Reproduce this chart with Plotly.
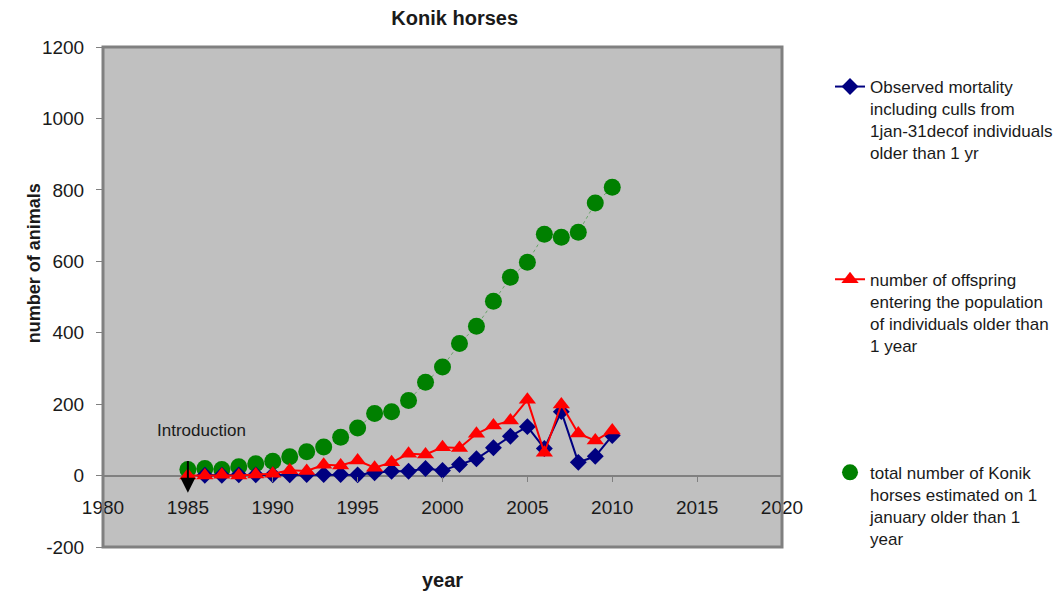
import plotly.graph_objects as go

# ---- data ----
years = list(range(1985, 2011))
total_horses = [17, 20, 17, 25, 33, 40, 53, 67, 80, 107, 133, 174, 179, 210,
                261, 304, 370, 418, 488, 555, 597, 676, 667, 681, 763, 807]
offspring = [0, 0, 2, 0, 3, 5, 15, 13, 30, 28, 42, 22, 37, 61,
             59, 79, 77, 117, 140, 154, 212, 64, 199, 118, 98, 126]
mortality = [None, 1, 1, 2, 2, 2, 2, 3, 3, 3, 2, 8, 12, 12,
             20, 14, 31, 47, 78, 110, 137, 76, 179, 37, 54, 112]

name_mortality = "Observed mortality<br>including culls from<br>1jan-31decof individuals<br>older than 1 yr"
name_offspring = "number of offspring<br>entering the population<br>of individuals older than<br>1 year"
name_total = "total number of Konik<br>horses estimated on 1<br>january older than 1<br>year"

x_ticks = [1980, 1985, 1990, 1995, 2000, 2005, 2010, 2015, 2020]
y_ticks = [-200, 0, 200, 400, 600, 800, 1000, 1200]
x_range = [1980, 2020]
y_range = [-200, 1200]

FONT = "Arial, 'Liberation Sans', sans-serif"
TXT = "#1a1a1a"

fig = go.Figure()

# faint connecting line of the total series
fig.add_trace(go.Scatter(
    x=years, y=total_horses, mode="lines",
    line=dict(color="rgba(0,128,0,0.45)", width=1, dash="dot"),
    showlegend=False, hoverinfo="skip"))

fig.add_trace(go.Scatter(
    x=years, y=total_horses, mode="markers", name=name_total,
    marker=dict(symbol="circle", size=17, color="#008000"),
    legend="legend3"))

fig.add_trace(go.Scatter(
    x=years, y=mortality, mode="lines+markers", name=name_mortality,
    line=dict(color="#000080", width=2),
    marker=dict(symbol="diamond", size=13, color="#000080"),
    legend="legend"))

fig.add_trace(go.Scatter(
    x=years, y=offspring, mode="lines+markers", name=name_offspring,
    line=dict(color="#FF0000", width=2),
    marker=dict(symbol="triangle-up", size=15, color="#FF0000"),
    legend="legend2"))

leg_common = dict(font=dict(family=FONT, size=17, color=TXT),
                  bgcolor="rgba(0,0,0,0)", valign="top",
                  xref="container", yref="container",
                  xanchor="left", yanchor="top")

fig.update_layout(
    width=1056, height=600,
    margin=dict(l=103, r=274, t=47, b=53, autoexpand=False),
    paper_bgcolor="white", plot_bgcolor="#C0C0C0",
    font=dict(family=FONT, color=TXT),
    title=dict(text="<b>Konik horses</b>", x=0.518, xref="paper",
               xanchor="center", y=0.97, yref="container", yanchor="middle",
               font=dict(size=20, family=FONT, color=TXT)),
    legend=dict(x=0.786, y=0.885, **leg_common),
    legend2=dict(x=0.786, y=0.564, **leg_common),
    legend3=dict(x=0.786, y=0.242, **leg_common),
    xaxis=dict(range=x_range, tickvals=x_ticks, anchor="free",
               position=(0 - y_range[0]) / (y_range[1] - y_range[0]),
               ticks="outside", ticklen=5, tickcolor="#808080",
               showgrid=False, showline=False, zeroline=False,
               tickfont=dict(size=19, family=FONT, color=TXT),
               ticklabelstandoff=10,
               title=dict(text="<b>year</b>", standoff=55,
                          font=dict(size=20, family=FONT, color=TXT))),
    yaxis=dict(range=y_range, tickvals=y_ticks,
               ticktext=[str(v) for v in y_ticks],
               ticks="outside", ticklen=6, tickcolor="#808080",
               showgrid=False, showline=False,
               zeroline=True, zerolinecolor="#808080", zerolinewidth=1.5,
               tickfont=dict(size=19, family=FONT, color=TXT),
               ticklabelstandoff=8),
    showlegend=True,
)

fig.add_shape(type="rect", xref="paper", yref="paper", x0=0, x1=1, y0=0, y1=1,
              line=dict(color="#808080", width=3), layer="above")

fig.add_annotation(x=1985.8, y=126, xref="x", yref="y", text="Introduction",
                   showarrow=False, font=dict(size=17, family=FONT, color=TXT))
fig.add_annotation(x=1985, y=-48, ax=1985, ay=45, xref="x", yref="y",
                   axref="x", ayref="y", text="", showarrow=True,
                   arrowhead=2, arrowsize=1.5, arrowwidth=2, arrowcolor="black")
fig.add_annotation(x=-0.119, y=0.568, xref="paper", yref="paper",
                   text="<b>number of animals</b>", textangle=-90,
                   showarrow=False, font=dict(size=18, family=FONT, color=TXT))

fig.write_html("out.html", config={"displayModeBar": False},
               post_script="document.body.style.margin='0';")
